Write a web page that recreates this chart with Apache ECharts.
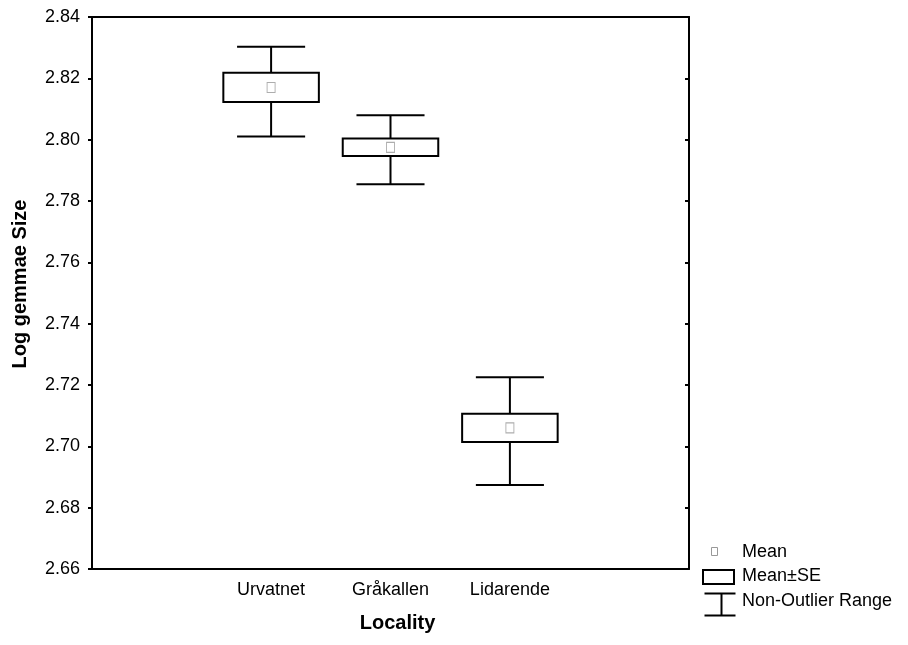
<!DOCTYPE html>
<html>
<head>
<meta charset="utf-8">
<script src="https://cdn.jsdelivr.net/npm/echarts@6/dist/echarts.min.js"></script>
<style>
  html, body { margin: 0; padding: 0; background: #fff; }
  #chart { width: 908px; height: 645px; }
</style>
</head>
<body>
<div id="chart"></div>
<script>
// Category slots along the x axis (blank slots pad both ends)
const axisCategories = ['', 'Urvatnet', 'Gråkallen', 'Lidarende', ''];
// Index of each locality within axisCategories
const localityIndex = [1, 2, 3];
// Per-locality statistics (log gemmae size)
const means = [2.817, 2.7975, 2.706];
const seLow = [2.8123, 2.7947, 2.7014];
const seHigh = [2.8218, 2.8004, 2.7106];
const rangeLow = [2.8010, 2.7855, 2.6874];
const rangeHigh = [2.8303, 2.8080, 2.7225];
// Y axis scale
const yMin = 2.66, yMax = 2.84, yStep = 0.02;

const FONT = 'Liberation Sans, Arial, sans-serif';

const boxData = localityIndex.map((c, i) => [c, rangeLow[i], seLow[i], seHigh[i], rangeHigh[i]]);
const meanData = localityIndex.map((c, i) => [c, means[i]]);

function renderBox(params, api) {
  const cat = api.value(0);
  const band = api.size([1, 0])[0];
  const pLow = api.coord([cat, api.value(1)]);
  const pQ1 = api.coord([cat, api.value(2)]);
  const pQ3 = api.coord([cat, api.value(3)]);
  const pHigh = api.coord([cat, api.value(4)]);
  const cx = pLow[0];
  const boxW = band * 0.8;
  const capW = band * 0.57;
  const stroke = { stroke: '#000', lineWidth: 2, fill: null };
  return {
    type: 'group',
    children: [
      { type: 'line', shape: { x1: cx, y1: pHigh[1], x2: cx, y2: pQ3[1] }, style: stroke },
      { type: 'line', shape: { x1: cx, y1: pQ1[1], x2: cx, y2: pLow[1] }, style: stroke },
      { type: 'line', shape: { x1: cx - capW / 2, y1: pHigh[1], x2: cx + capW / 2, y2: pHigh[1] }, style: stroke },
      { type: 'line', shape: { x1: cx - capW / 2, y1: pLow[1], x2: cx + capW / 2, y2: pLow[1] }, style: stroke },
      { type: 'rect', shape: { x: cx - boxW / 2, y: pQ3[1], width: boxW, height: pQ1[1] - pQ3[1] },
        style: { stroke: '#000', lineWidth: 2, fill: '#fff' } }
    ]
  };
}

const axisLineStyle = { color: '#000', width: 2 };

// Legend drawn at the lower right, outside the plot frame
const legendX = 702, legendTextX = 742;
const legendGraphics = [
  { type: 'rect', left: legendX + 9, top: 547, shape: { x: 0, y: 0, width: 6, height: 8 },
    style: { stroke: '#999', lineWidth: 1, fill: '#fff' } },
  { type: 'text', left: legendTextX, top: 543,
    style: { text: 'Mean', font: '18px ' + FONT, fill: '#000' } },
  { type: 'rect', left: legendX, top: 569, shape: { x: 0, y: 0, width: 31, height: 14 },
    style: { stroke: '#000', lineWidth: 2, fill: '#fff' } },
  { type: 'text', left: legendTextX, top: 567,
    style: { text: 'Mean±SE', font: '18px ' + FONT, fill: '#000' } },
  { type: 'group', left: legendX, top: 591, children: [
    { type: 'line', shape: { x1: 0, y1: 1, x2: 31, y2: 1 }, style: { stroke: '#000', lineWidth: 2 } },
    { type: 'line', shape: { x1: 17, y1: 1, x2: 17, y2: 23 }, style: { stroke: '#000', lineWidth: 2 } },
    { type: 'line', shape: { x1: 0, y1: 23, x2: 31, y2: 23 }, style: { stroke: '#000', lineWidth: 2 } }
  ]},
  { type: 'text', left: legendTextX, top: 592,
    style: { text: 'Non-Outlier Range', font: '18px ' + FONT, fill: '#000' } }
];

const chart = echarts.init(document.getElementById('chart'), null, { renderer: 'canvas' });
chart.setOption({
  backgroundColor: '#fff',
  animation: false,
  grid: { left: 92, right: 219, top: 17, bottom: 76 },
  xAxis: [
    {
      type: 'category', data: axisCategories, position: 'bottom',
      boundaryGap: true,
      axisLine: { lineStyle: axisLineStyle },
      axisTick: { inside: true, alignWithLabel: true, length: 4, lineStyle: { color: '#000', width: 2 } },
      axisLabel: { color: '#000', fontFamily: FONT, fontSize: 18, margin: 12 },
      splitLine: { show: false },
      name: 'Locality', nameLocation: 'middle', nameGap: 44,
      nameTextStyle: { color: '#000', fontFamily: FONT, fontSize: 20, fontWeight: 'bold', padding: [0, 0, 0, 14] }
    },
    {
      type: 'category', data: axisCategories, position: 'top',
      boundaryGap: true,
      axisLine: { lineStyle: axisLineStyle },
      axisTick: { inside: true, alignWithLabel: true, length: 3, lineStyle: { color: '#000', width: 2 } },
      axisLabel: { show: false },
      splitLine: { show: false }
    }
  ],
  yAxis: [
    {
      type: 'value', min: yMin, max: yMax, interval: yStep, position: 'left',
      axisLine: { show: true, lineStyle: axisLineStyle },
      axisTick: { show: true, inside: false, length: 4, lineStyle: { color: '#000', width: 2 } },
      axisLabel: { color: '#000', fontFamily: FONT, fontSize: 18, margin: 12,
        formatter: v => v.toFixed(2) },
      splitLine: { show: false },
      name: 'Log gemmae Size', nameLocation: 'middle', nameGap: 62,
      nameTextStyle: { color: '#000', fontFamily: FONT, fontSize: 20, fontWeight: 'bold', padding: [0, 0, 0, 18] }
    },
    {
      type: 'value', min: yMin, max: yMax, interval: yStep, position: 'right',
      axisLine: { show: true, lineStyle: axisLineStyle },
      axisTick: { show: true, inside: true, length: 4, lineStyle: { color: '#000', width: 2 } },
      axisLabel: { show: false },
      splitLine: { show: false }
    }
  ],
  series: [
    {
      type: 'custom', name: 'Mean±SE', xAxisIndex: 0, yAxisIndex: 0,
      renderItem: renderBox,
      encode: { x: 0, y: [1, 2, 3, 4] },
      data: boxData, z: 2
    },
    {
      type: 'scatter', name: 'Mean', xAxisIndex: 0, yAxisIndex: 0,
      symbol: 'rect', symbolSize: [8, 10],
      itemStyle: { color: '#fff', borderColor: '#999', borderWidth: 1 },
      data: meanData, z: 3
    }
  ],
  graphic: legendGraphics
});
</script>
</body>
</html>
